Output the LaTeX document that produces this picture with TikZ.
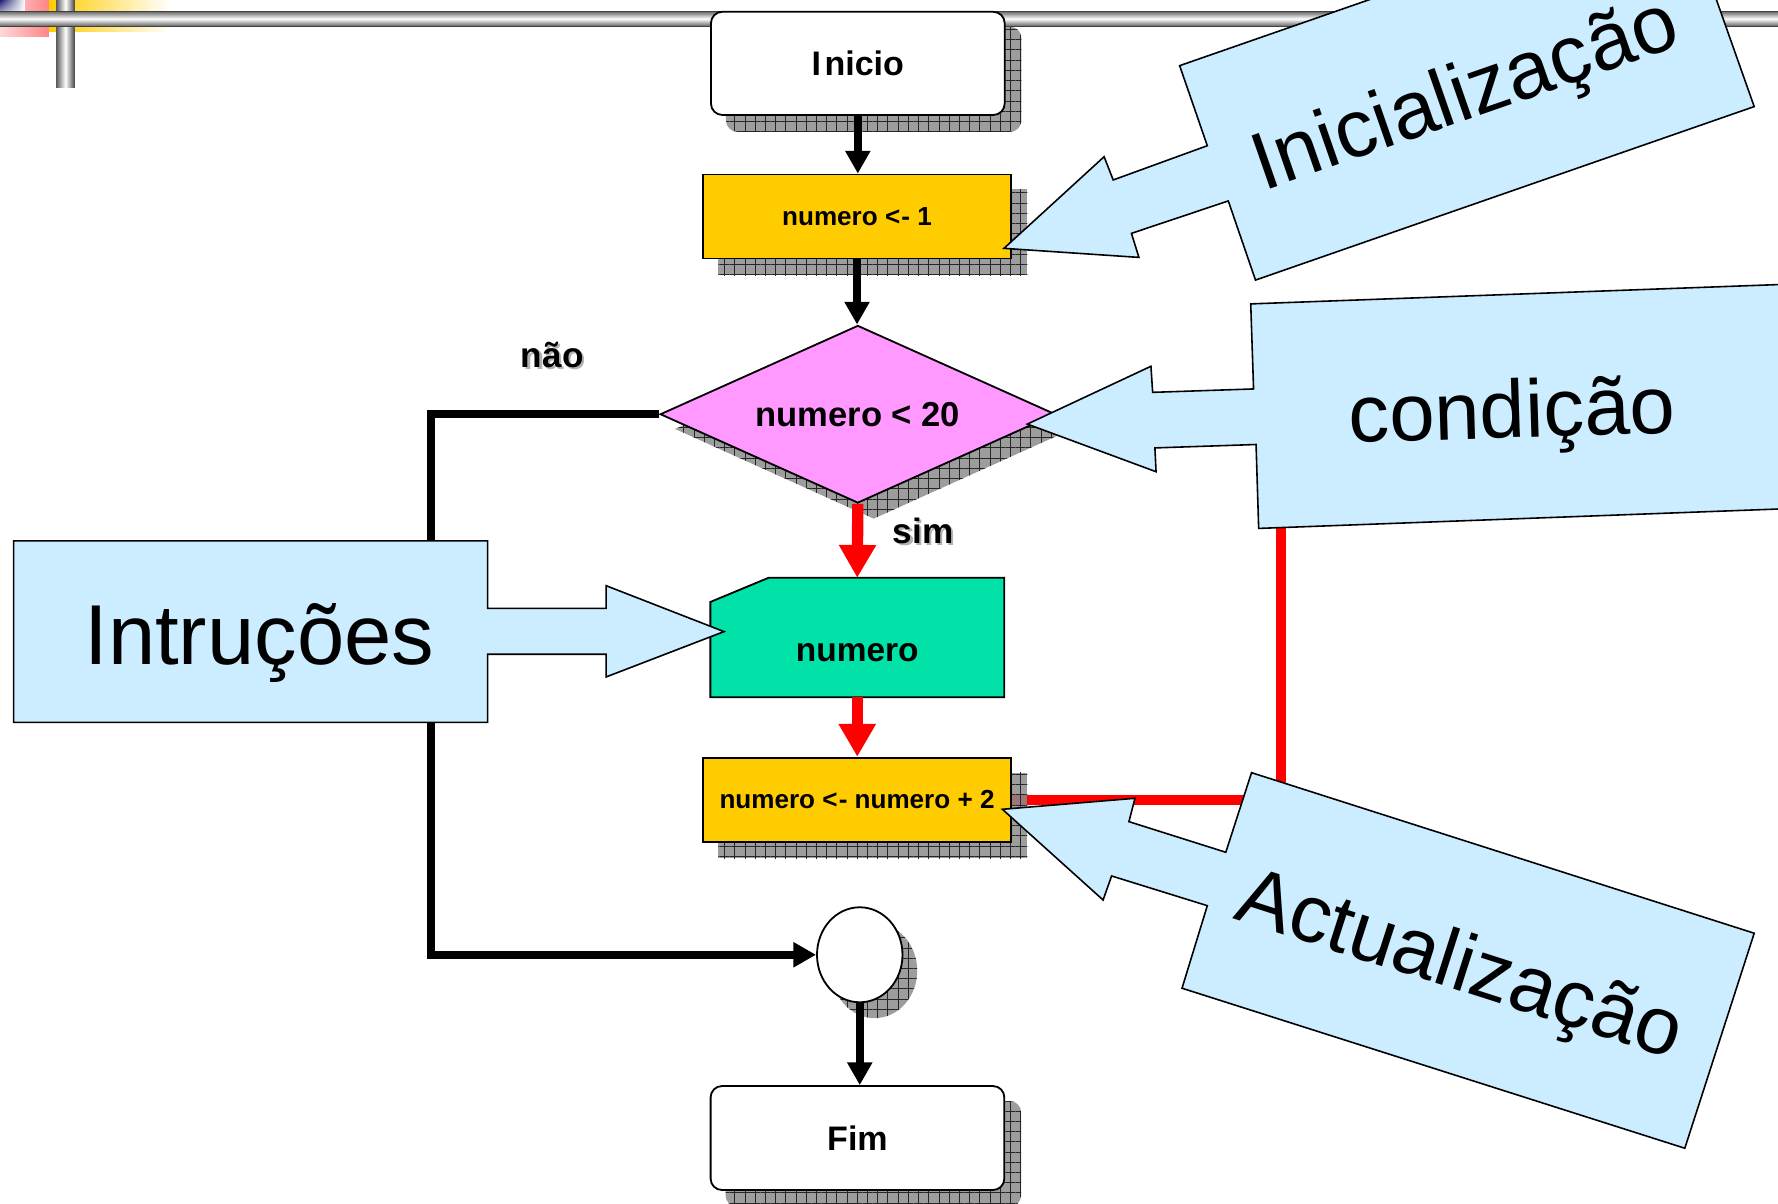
\documentclass[tikz,border=0pt]{standalone}
\usepackage{fontspec}
\setmainfont{Liberation Sans}
\usetikzlibrary{shapes.geometric,arrows.meta,patterns.meta,calc,shadings}

\pgfdeclarelayer{deco}
\pgfdeclarelayer{under}
\pgfdeclarelayer{shade}
\pgfdeclarelayer{body}
\pgfsetlayers{deco,under,shade,body,main}

\definecolor{procyellow}{HTML}{FFCC00}
\definecolor{condpink}{HTML}{FF99FF}
\definecolor{cardgreen}{HTML}{00E2A8}
\definecolor{noteblue}{HTML}{CCECFF}
\definecolor{decopink}{HTML}{FF8585}
\definecolor{decopinklight}{HTML}{FFD8DC}
\definecolor{deconavy}{HTML}{1C1C70}

\tikzset{
  termbox/.style={draw, line width=1.6bp, fill=white, rounded corners=10bp,
    minimum width=259bp, minimum height=91bp, inner sep=0pt,
    font=\fontsize{30bp}{36bp}\selectfont\bfseries},
  procbox/.style={draw, line width=1.6bp, fill=procyellow,
    minimum width=271bp, minimum height=74bp, inner sep=0pt,
    font=\fontsize{23bp}{28bp}\selectfont\bfseries},
  decision/.style={diamond, draw, line width=1.6bp, fill=condpink,
    minimum width=348.6bp, minimum height=156.6bp, aspect=2.23, inner sep=0pt,
    font=\fontsize{30.5bp}{36bp}\selectfont\bfseries},
  cardbox/.style={minimum width=258.7bp, minimum height=104.9bp, inner sep=0pt,
    font=\fontsize{29.5bp}{35bp}\selectfont\bfseries},
  cardshape/.style={draw, line width=1.6bp, fill=cardgreen, line join=miter},
  junction/.style={ellipse, draw, line width=1.6bp, fill=white,
    minimum width=75.4bp, minimum height=83.8bp, inner sep=0pt},
  flowarrow/.style={draw=black, line width=7bp, line join=miter,
    -{Triangle[width=21bp,length=20bp]}},
  yesarrow/.style={draw=red, line width=10bp,
    -{Triangle[width=31bp,length=29bp]}},
  loopline/.style={draw=red, line width=9bp, line join=miter},
  shadowfill/.style={fill=black!45, fill opacity=0.85,
    postaction={pattern={Hatch[distance=9bp,angle=0,line width=0.7bp]},
      pattern color=black!85}},
  branchlabel/.style={inner sep=0pt, font=\fontsize{31bp}{36bp}\selectfont\bfseries},
  labelshadow/.style={branchlabel, text=black!30},
  note/.style={draw, line width=1.4bp, fill=noteblue, line join=miter},
  notetext/.style={inner sep=0pt, anchor=base},
}

\begin{document}
\begin{tikzpicture}[x=1bp, y=-1bp]
\useasboundingbox (0,0) rectangle (1568,1061);

% ---- slide template ornaments ----
\begin{pgfonlayer}{deco}
  \shade[left color=decopinklight, right color=decopink] (0,0) rectangle (43,32);
  \shade[left color=procyellow, right color=white] (43,0) rectangle (150,28);
  \shade[upper left=deconavy, upper right=white, lower left=white, lower right=white]
    (0,0) rectangle (22,18);
  \shade[left color=black!65, right color=black!75, middle color=white]
    (49.4,0) rectangle (66.1,77);
  \shade[top color=black!60, bottom color=black!60, middle color=white]
    (0,10) rectangle (1568,23);
  \draw[black!75, line width=1bp] (0,10) -- (1568,10) (0,23) -- (1568,23);
\end{pgfonlayer}

% ---- flowchart nodes ----
\node[termbox] (inicio) at (756.5,55.9) {I\kern3bp nicio};
\node[procbox] (init) at (755.8,190.9) {numero <\kern1bp- 1};
\node[decision] (cond) at (756.5,365.3) {numero < 20};
\node[cardbox] (card) at (756,562.2) {\raisebox{-21bp}[0pt][0pt]{numero}};
\node[procbox] (upd) at (755.8,705.2) {numero <\kern1bp- numero + 2};
\node[junction] (junc) at (758.2,842) {};
\node[termbox, minimum height=91.7bp] (fim) at (756.2,1003.6) {Fim};

% card outline with clipped corner
\begin{pgfonlayer}{body}
  \draw[cardshape] ($(card.north west)+(0,21.3)$) -- ($(card.north west)+(51.3,0)$)
    -- (card.north east) -- (card.south east) -- (card.south west) -- cycle;
\end{pgfonlayer}

% ---- drop shadows ----
\begin{pgfonlayer}{shade}
  \path[shadowfill, rounded corners=10bp]
    ([shift={(14,14)}]inicio.north west) rectangle ([shift={(14,14)}]inicio.south east);
  \path[shadowfill] ([shift={(14,14)}]init.north west) rectangle ([shift={(14,14)}]init.south east);
  \path[shadowfill] ([shift={(14,13)}]cond.north) -- ([shift={(14,13)}]cond.east)
    -- ([shift={(14,13)}]cond.south) -- ([shift={(14,13)}]cond.west) -- cycle;
  \path[shadowfill] ([shift={(14,14)}]upd.north west) rectangle ([shift={(14,14)}]upd.south east);
  \path[shadowfill] ([shift={(13,14)}]junc.center) ellipse [x radius=37.7bp, y radius=41.9bp];
  \path[shadowfill, rounded corners=10bp]
    ([shift={(14,14)}]fim.north west) rectangle ([shift={(14,14)}]fim.south east);
\end{pgfonlayer}

% ---- connectors ----
\coordinate (loopTop) at (1130,420);
\coordinate (noTurn) at (380.5,365.3);
\begin{pgfonlayer}{under}
  \draw[loopline] (upd.east) -| (loopTop);
\end{pgfonlayer}
\draw[flowarrow] (inicio.south) -- (inicio.south |- init.north);
\draw[flowarrow] (init.south) -- (init.south |- cond.north);
\draw[yesarrow] (cond.south) -- (card.north);
\draw[yesarrow] (card.south) -- (card.south |- upd.north);
\draw[flowarrow] (cond.west) -- (noTurn) |- (junc.west);
\draw[flowarrow] (junc.south) -- (junc.south |- fim.north);

% branch labels
\node[labelshadow] at (489,315) {não};
\node[branchlabel] (nao) at (487,313) {não};
\node[labelshadow] at (816,470) {sim};
\node[branchlabel] (sim) at (814,468) {sim};

% ---- annotation callouts ----
\draw[note] (12,477) -- (430,477) -- (430,536.5) -- (534.5,536.5) -- (534.5,516.5)
  -- (638.5,557) -- (534.5,597) -- (534.5,577) -- (430,577) -- (430,637) -- (12,637) -- cycle;
\node[notetext, font=\fontsize{75bp}{84bp}\selectfont] (tIntr) at (228.7,586.4) {Intruções};

\draw[note] (1040.3,57.9) -- (1480.1,-95.1) -- (1547,94) -- (1107.2,247) -- (1083.2,177.2)
  -- (997.8,205.8) -- (1004.4,227) -- (885.4,219) -- (973.7,138.2) -- (981.7,158.7)
  -- (1064.7,128.5) -- cycle;
\node[notetext, rotate=19.2, font=\fontsize{72bp}{80bp}\selectfont] (tInit) at (1299,104) {Inicialização};

\draw[note] (1103,268) -- (1600,249.8) -- (1600,447.7) -- (1110,466) -- (1107.7,392)
  -- (1018.5,395) -- (1019.5,416) -- (906,374) -- (1015,323) -- (1016.5,346)
  -- (1105.5,343) -- cycle;
\node[notetext, rotate=1.8, font=\fontsize{72bp}{80bp}\selectfont] (tCond) at (1334,386) {condição};

\draw[note] (1103.7,681.4) -- (1081,751.6) -- (995.6,724.6) -- (1000.9,704) -- (884,713.7)
  -- (972.8,793.7) -- (980.3,772.5) -- (1064.7,798.7) -- (1042.4,871.5) -- (1485.8,1012.6)
  -- (1547,823) -- cycle;
\node[notetext, rotate=-17.8, font=\fontsize{72bp}{80bp}\selectfont] (tAct) at (1281,872) {Actualização};

\end{tikzpicture}
\end{document}
